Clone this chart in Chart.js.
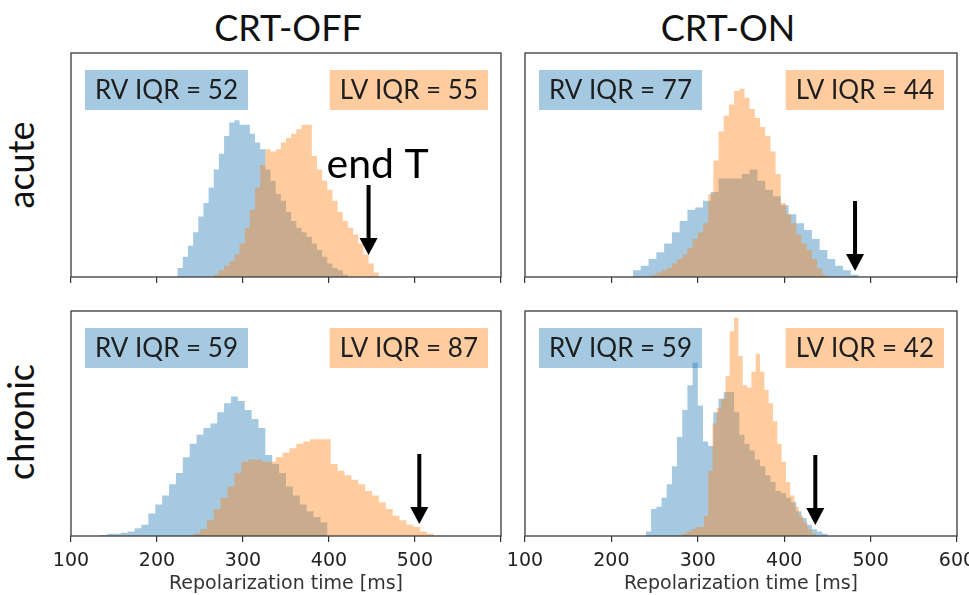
<!DOCTYPE html>
<html>
<head>
<meta charset="utf-8">
<script src="https://cdn.jsdelivr.net/npm/chart.js@4.4.1/dist/chart.umd.min.js"></script>
<style>
  body { margin: 0; background: #fff; width: 969px; height: 595px; position: relative; overflow: hidden; }
  .panel { position: absolute; }
  .lbl { position: absolute; width: 200px; font-family: Lato, sans-serif; font-size: 36px; line-height: 40px;
         color: #111; text-align: center; white-space: nowrap; }
  .rot { transform: rotate(-90deg); }
</style>
</head>
<body>
<div class="lbl" style="left:188px; top:7px;">CRT-OFF</div>
<div class="lbl" style="left:628px; top:7px;">CRT-ON</div>
<div class="lbl rot" style="left:-80px; top:145px;">acute</div>
<div class="lbl rot" style="left:-80px; top:402px;">chronic</div>

<canvas id="c0" class="panel"></canvas>
<canvas id="c1" class="panel"></canvas>
<canvas id="c2" class="panel"></canvas>
<canvas id="c3" class="panel"></canvas>

<script>
// x axis
const xTicks = [100, 200, 300, 400, 500, 600];

// panels: acute CRT-OFF, acute CRT-ON, chronic CRT-OFF, chronic CRT-ON
const rvIQR = [52, 77, 59, 59];
const lvIQR = [55, 44, 87, 42];
const endT = [446, 482, 505, 436];   // ms where the arrow points

// histogram bins (ms) and heights (% of panel height)
const rvBinStart = [224, 225, 134, 240];
const rvBinWidth = [6, 9, 8, 6];
const lvBinStart = [266, 246, 242, 282];
const lvBinWidth = [6, 6, 8, 5];

const rvAcuteOff = [4,9,14,20,27,33,40,48,55,63,69,70,68,68,64,60,57,48,43,37,34,29,25,22,20,18,15,12,9,6,4,3,1];
const lvAcuteOff = [1,3,5,7,10,15,22,30,40,50,57,56,57,60,62,64,66,68,68,54,48,43,39,34,29,25,22,19,15,10,6,2];
const rvAcuteOn = [3,5,8,11,15,20,25,30,31,34,38,44,44,44,46,48,43,39,36,32,28,24,21,17,12,8,5,3,1];
const lvAcuteOn = [1,2,3,4,6,8,10,13,17,20,24,37,52,65,72,77,83,84,80,75,71,67,63,56,46,33,28,24,19,15,12,8,4,1];
const rvChronicOff = [0.5,1,1,1.5,2,3.5,5,10,14,18,23,28,35,41,45,48,50,55,59,62,60,56,52,48,36,32,28,22,18,14,11,8.5,6];
const lvChronicOff = [1,3,7,12,17,22,28,33,34,34,33,33,35,37,39,41,42,43,43,43,32,29,27,25,23,20,18,15,12,9,7,5,4,2,1];
const rvChronicOn = [2,12,13,17,23,31,44,56,67,77,58,42,40,55,61,64,64,55,45,41,38,34,31,27,24,20,19,17,15,11,8,5,3,2,1];
const lvChronicOn = [1,2,3,4,4,9,29,50,57,61,71,91,97,80,67,66,73,81,73,65,59,51,41,33,24,18,13,9,6,3,1];

const rvCounts = [rvAcuteOff, rvAcuteOn, rvChronicOff, rvChronicOn];
const lvCounts = [lvAcuteOff, lvAcuteOn, lvChronicOff, lvChronicOn];

const RV_FILL = 'rgba(31,119,180,0.4)';
const LV_FILL = 'rgba(255,127,14,0.4)';

// chart areas in page pixels
const areas = [
  { l: 71, t: 53, r: 501, b: 277, bottom: false, tip: 22, showLast: true },
  { l: 525, t: 53, r: 957, b: 277, bottom: false, tip: 6, showLast: true },
  { l: 71, t: 311, r: 501, b: 536, bottom: true, tip: 12, showLast: false },
  { l: 525, t: 311, r: 957, b: 536, bottom: true, tip: 11, showLast: true }
];

function histPoints(start, width, counts) {
  const pts = [{ x: start - width / 2, y: 0 }];
  counts.forEach((c, i) => pts.push({ x: start + width * (i + 0.5), y: c }));
  pts.push({ x: start + width * (counts.length + 0.5), y: 0 });
  return pts;
}

const decor = {
  id: 'decor',
  afterDatasetsDraw(chart) {
    const { ctx, chartArea: a } = chart;
    ctx.save();
    ctx.strokeStyle = '#3a3a3a';
    ctx.lineWidth = 1.3;
    ctx.strokeRect(a.left, a.top, a.right - a.left, a.bottom - a.top);
    ctx.restore();
  },
  afterDraw(chart, args, o) {
    const { ctx, chartArea: a } = chart;
    ctx.save();
    // IQR boxes
    ctx.font = '26px Lato';
    ctx.textBaseline = 'middle';
    const t1 = 'RV IQR = ' + o.rv, t2 = 'LV IQR = ' + o.lv;
    const w1 = ctx.measureText(t1).width + 20, w2 = ctx.measureText(t2).width + 20;
    ctx.fillStyle = RV_FILL;
    ctx.fillRect(a.left + 14, a.top + 17, w1, 40);
    ctx.fillStyle = LV_FILL;
    ctx.fillRect(a.right - 13 - w2, a.top + 17, w2, 40);
    ctx.fillStyle = '#1e1e1e';
    ctx.fillText(t1, a.left + 24, a.top + 38);
    ctx.fillText(t2, a.right - 3 - w2, a.top + 38);

    // end T arrow
    const x = chart.scales.x.getPixelForValue(o.arrowX);
    const tip = a.bottom - o.tip;
    const top = tip - 70;
    ctx.fillStyle = '#000';
    ctx.fillRect(x - 2, top, 4, 55);
    ctx.beginPath();
    ctx.moveTo(x - 9, tip - 17);
    ctx.lineTo(x + 9, tip - 17);
    ctx.lineTo(x, tip);
    ctx.closePath();
    ctx.fill();
    if (o.label) {
      ctx.font = '41px Lato';
      ctx.textBaseline = 'alphabetic';
      ctx.fillText(o.label, x - 42, top - 7);
    }
    ctx.restore();
  }
};

function makePanel(i) {
  const p = areas[i];
  const axisH = p.bottom ? 62 : 10;
  const padL = 30, padR = 30, padT = 12;
  const cv = document.getElementById('c' + i);
  cv.width = p.r - p.l + padL + padR;
  cv.height = p.b - p.t + padT + axisH;
  cv.style.left = (p.l - padL) + 'px';
  cv.style.top = (p.t - padT) + 'px';

  new Chart(cv, {
    type: 'line',
    data: {
      datasets: [
        { label: 'LV', data: histPoints(lvBinStart[i], lvBinWidth[i], lvCounts[i]), order: 0,
          stepped: 'middle', fill: 'origin', backgroundColor: LV_FILL, borderColor: 'transparent',
          borderWidth: 0, pointRadius: 0 },
        { label: 'RV', data: histPoints(rvBinStart[i], rvBinWidth[i], rvCounts[i]), order: 1,
          stepped: 'middle', fill: 'origin', backgroundColor: RV_FILL, borderColor: 'transparent',
          borderWidth: 0, pointRadius: 0 }
      ]
    },
    options: {
      responsive: false,
      animation: false,
      layout: { padding: { left: padL, right: padR, top: padT, bottom: 0 } },
      plugins: {
        legend: { display: false },
        tooltip: { enabled: false },
        decor: { rv: rvIQR[i], lv: lvIQR[i], arrowX: endT[i], tip: p.tip, label: i === 0 ? 'end T' : '' }
      },
      scales: {
        x: {
          type: 'linear', min: xTicks[0], max: xTicks[xTicks.length - 1],
          afterFit: s => { s.height = axisH; },
          afterBuildTicks: s => { s.ticks = xTicks.map(v => ({ value: v })); },
          grid: { drawOnChartArea: false, drawTicks: true, tickLength: 6, color: '#333', lineWidth: 1.2 },
          border: { display: false },
          ticks: {
            display: p.bottom, autoSkip: false, maxRotation: 0, padding: 8,
            font: { family: 'DejaVu Sans', size: 19 }, color: '#222',
            callback: v => (v === 600 && !p.showLast) ? '' : String(v)
          },
          title: {
            display: p.bottom, text: 'Repolarization time [ms]', color: '#333',
            font: { family: 'DejaVu Sans', size: 19 }, padding: { top: 2, bottom: 3 }
          }
        },
        y: { display: false, min: 0, max: 100 }
      }
    },
    plugins: [decor]
  });
}

Promise.all([document.fonts.load('26px Lato'), document.fonts.load('18px "DejaVu Sans"')])
  .catch(() => {})
  .then(() => { for (let i = 0; i < 4; i++) makePanel(i); });
</script>
</body>
</html>
